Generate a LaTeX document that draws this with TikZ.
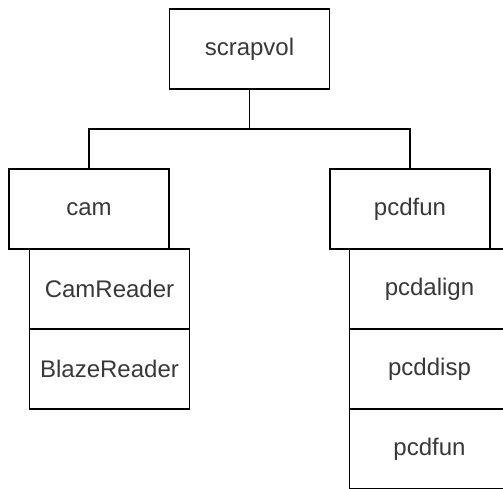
\documentclass[tikz,border=0pt]{standalone}
\usepackage{fontspec}
\setmainfont{Liberation Sans}
\begin{document}
\begin{tikzpicture}[x=1pt,y=-1pt,
    box/.style={draw, line width=1.6pt, minimum width=160pt, minimum height=80pt,
        inner sep=0pt, text=black!78, font=\fontsize{24}{28}\selectfont},
    link/.style={line width=1.6pt}]
    % Fix the frame of the picture
    \useasboundingbox (0,0) rectangle (503,488);
    \clip (0,0) rectangle (503,488);
    
    % Top module
    \node[box] (scrapvol) at (249.5,49) {scrapvol};
    
    % Sub modules
    \node[box] (cam) at (89,209) {cam};
    \node[box] (pcdfun) at (410,209) {pcdfun};
    
    % Classes of cam
    \node[box] (camreader) at (109.5,289) {CamReader};
    \node[box] (blazereader) at (109.5,369) {BlazeReader};
    
    % Classes of pcdfun
    \node[box] (pcdalign) at (429.5,289) {pcdalign};
    \node[box] (pcddisp) at (429.5,369) {pcddisp};
    \node[box] (pcdfunc) at (429.5,449) {pcdfun};
    
    % Tree lines
    \draw[link] (scrapvol.south) -- ++(0,39) coordinate (fork) -| (cam.north);
    \draw[link] (fork) -| (pcdfun.north);
\end{tikzpicture}
\end{document}
